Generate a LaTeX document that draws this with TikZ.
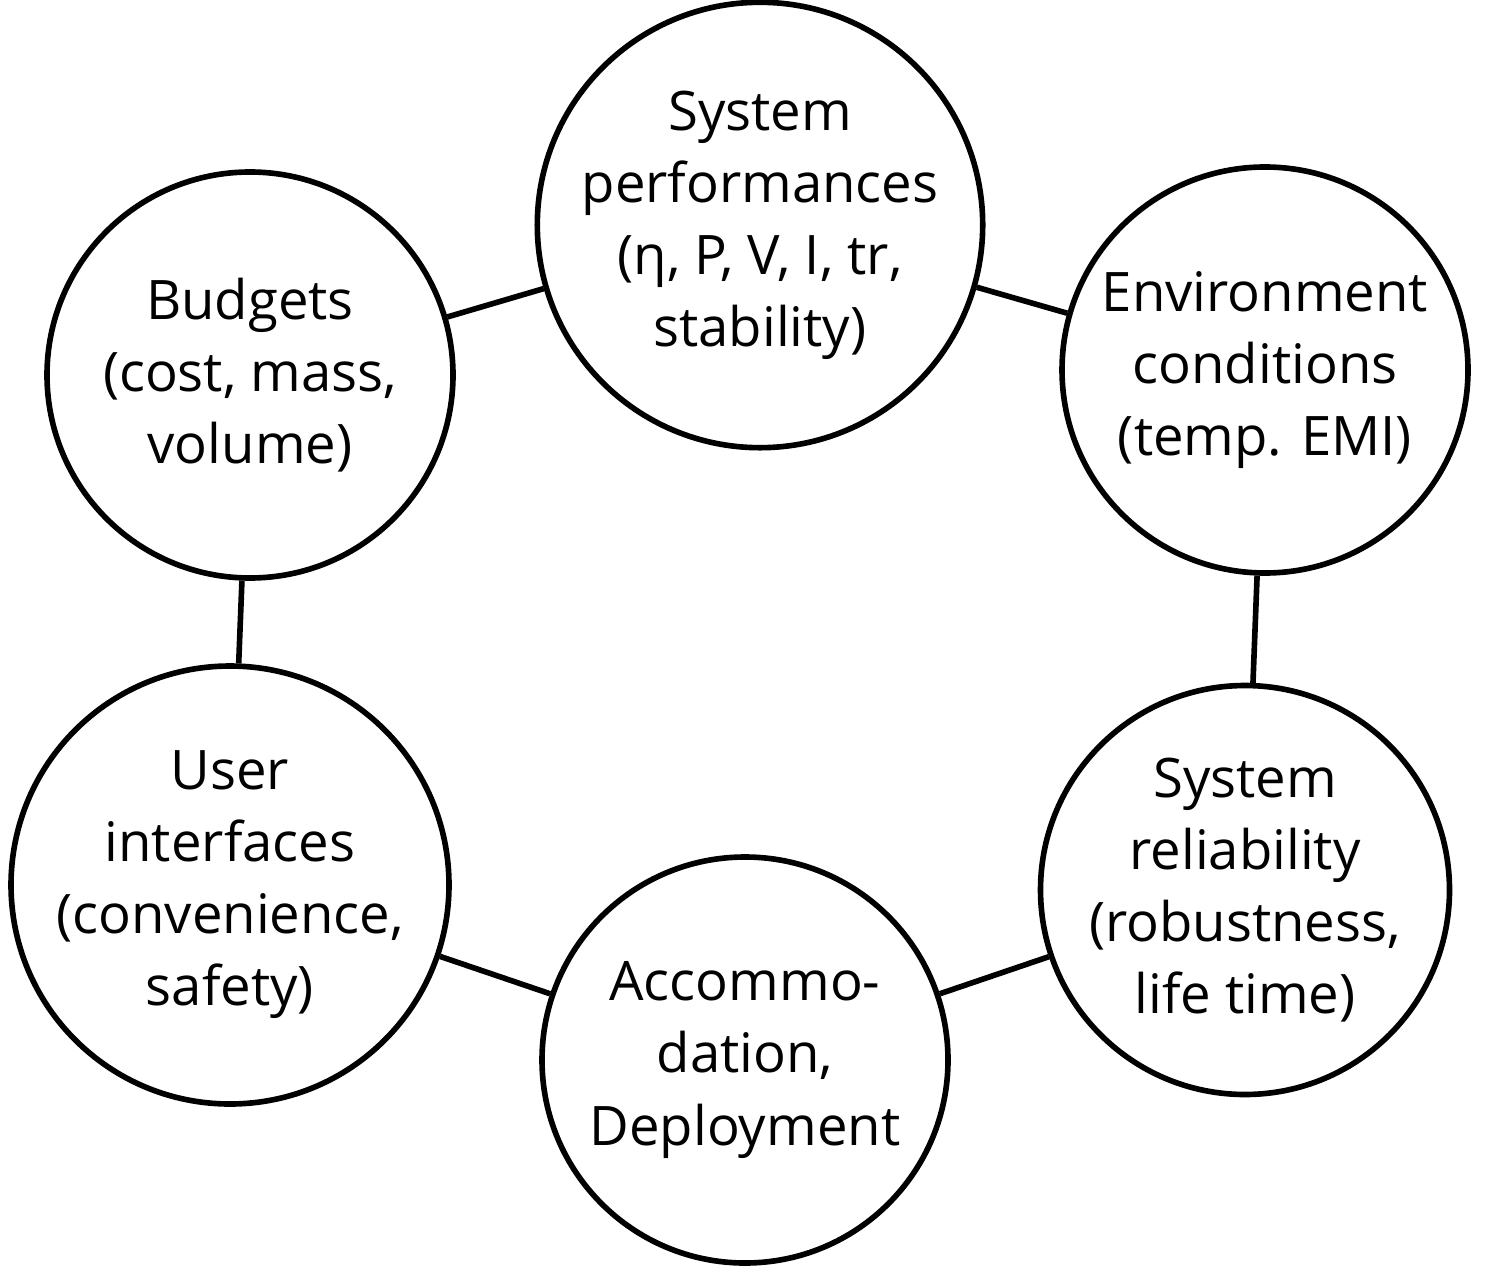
\documentclass[tikz,border=0pt]{standalone}
\usepackage{fontspec}
\setmainfont{Open Sans}
\begin{document}
\begin{tikzpicture}
      [line width=1.6pt,
      factor/.style={circle, draw, minimum size=4.06cm, inner sep=0pt,
        align=center, font=\fontsize{15.5}{20.5}\selectfont}]

      \useasboundingbox (0,0) rectangle (14.9,12.75);
      \node [factor] (P) at (7.6,10.5)   {System\\performances\\(η, P, V, I, tr,\\stability)};
      \node [factor] (B) at (2.5,9.0)    {Budgets\\(cost, mass,\\volume)};
      \node [factor] (E) at (12.65,9.05) {Environment\\conditions\\(temp. EMI)};
      \node [factor] (R) at (12.45,3.85) {System\\reliability\\(robustness,\\life time)};
      \node [factor] (A) at (7.45,2.15)  {Accommo-\\dation,\\Deployment};
      \node [factor] (U) at (2.3,3.9)    {User\\interfaces\\(convenience,\\safety)};

      \draw (P) -- (B);
      \draw (P) -- (E);
      \draw (E) -- (R);
      \draw (R) -- (A);
      \draw (A) -- (U);
      \draw (U) -- (B);
    \end{tikzpicture}
\end{document}
